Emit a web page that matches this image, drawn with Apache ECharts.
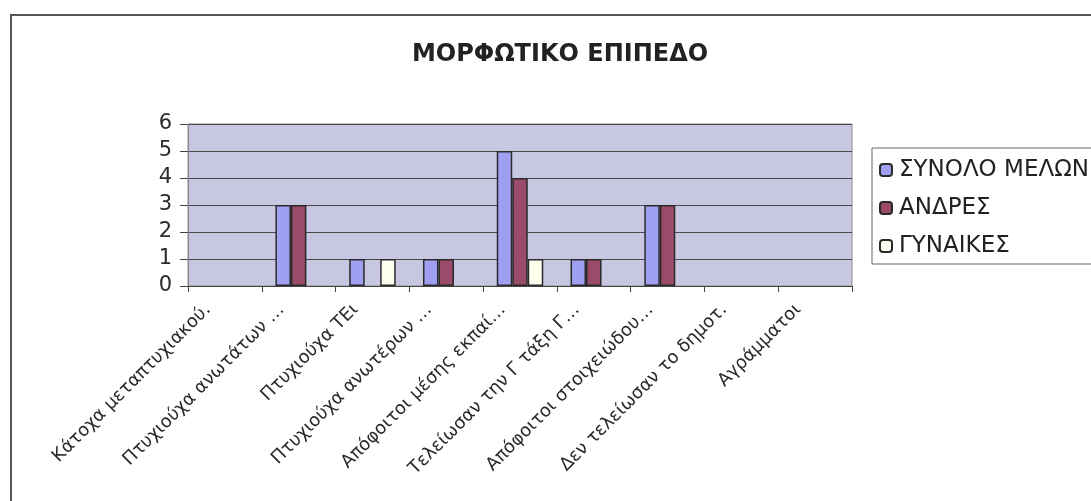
<!DOCTYPE html>
<html>
<head>
<meta charset="utf-8">
<script src="https://cdn.jsdelivr.net/npm/echarts@6/dist/echarts.min.js"></script>
<style>
html,body{margin:0;padding:0;background:#fff;}
#c{width:1091px;height:501px;}
</style>
</head>
<body>
<div id="c"></div>
<script>
const title = 'ΜΟΡΦΩΤΙΚΟ ΕΠΙΠΕΔΟ';
const categories = [
  'Κάτοχα μεταπτυχιακού.',
  'Πτυχιούχα ανωτάτων …',
  'Πτυχιούχα ΤΕι',
  'Πτυχιούχα ανωτέρων …',
  'Απόφοιτοι μέσης εκπαί…',
  'Τελείωσαν την Γ τάξη Γ…',
  'Απόφοιτοι στοιχειώδου…',
  'Δεν τελείωσαν το δημοτ.',
  'Αγράμματοι'
];
const seriesNames = ['ΣΥΝΟΛΟ ΜΕΛΩΝ', 'ΑΝΔΡΕΣ', 'ΓΥΝΑΙΚΕΣ'];
const totalMembers = [0, 3, 1, 1, 5, 1, 3, 0, 0];
const men = [0, 3, 0, 1, 4, 1, 3, 0, 0];
const women = [0, 0, 1, 0, 1, 0, 0, 0, 0];
const yTicks = [0, 1, 2, 3, 4, 5, 6];

const colors = ['#a0a0f2', '#9b4a69', '#fffff0'];
const chart = echarts.init(document.getElementById('c'), null, {renderer: 'canvas'});
const barStyle = (c) => ({color: c, borderColor: '#2a2a2a', borderWidth: 1.5});
// zero-height bars are invisible in the original (no outline drawn)
const barData = (arr) => arr.map(v => v === 0 ? {value: v, itemStyle: {borderWidth: 0, opacity: 0}} : v);
chart.setOption({
  backgroundColor: '#ffffff',
  animation: false,
  title: {
    text: title, left: 555, textAlign: 'center', top: 38,
    textStyle: {fontFamily: 'DejaVu Sans', fontWeight: 'bold', fontSize: 24, color: '#222'}
  },
  graphic: [{
    type: 'rect', shape: {x: 11, y: 15, width: 1120, height: 520},
    style: {fill: null, stroke: '#555', lineWidth: 2}, silent: true
  }],
  legend: {
    orient: 'vertical', left: 872, top: 148,
    padding: [9, 80, 5, 7],
    itemWidth: 12, itemHeight: 12, itemGap: 12,
    borderColor: '#666', borderWidth: 1,
    textStyle: {fontFamily: 'DejaVu Sans', fontSize: 23, lineHeight: 26, color: '#222', padding: [0, 0, 0, 2]},
    data: seriesNames
  },
  grid: {left: 188, right: 239, top: 124, bottom: 215, show: true,
    backgroundColor: '#c7c7e1', borderColor: '#8a8a8a', borderWidth: 1},
  xAxis: {
    type: 'category', data: categories,
    axisLine: {lineStyle: {color: '#444', width: 1}},
    axisTick: {show: true, length: 6, lineStyle: {color: '#444'}},
    axisLabel: {rotate: 45, margin: 4, padding: [0, 24, 0, 0], interval: 0,
      fontFamily: 'DejaVu Sans', fontSize: 18, color: '#2a2a2a'}
  },
  yAxis: {
    type: 'value', min: yTicks[0], max: yTicks[yTicks.length - 1], interval: 1,
    axisLine: {show: true, lineStyle: {color: '#8a8a8a'}},
    axisTick: {show: true, length: 8, lineStyle: {color: '#444'}},
    axisLabel: {margin: 16, fontFamily: 'DejaVu Sans', fontSize: 21, color: '#2a2a2a'},
    splitLine: {lineStyle: {color: '#4a4a4a', width: 1}}
  },
  series: [
    {name: seriesNames[0], type: 'bar', data: barData(totalMembers), barGap: '0%', barCategoryGap: '37%', itemStyle: barStyle(colors[0])},
    {name: seriesNames[1], type: 'bar', data: barData(men), barGap: '0%', barCategoryGap: '37%', itemStyle: barStyle(colors[1])},
    {name: seriesNames[2], type: 'bar', data: barData(women), barGap: '0%', barCategoryGap: '37%', itemStyle: barStyle(colors[2])}
  ]
});
</script>
</body>
</html>
